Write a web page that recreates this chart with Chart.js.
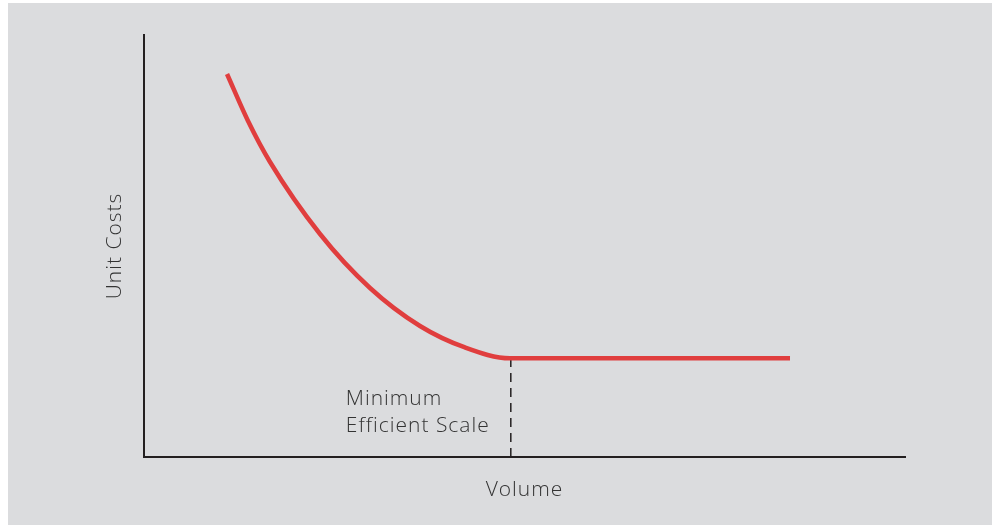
<!DOCTYPE html>
<html>
<head>
<meta charset="utf-8">
<script src="https://cdn.jsdelivr.net/npm/chart.js@4"></script>
<style>
  html, body { margin: 0; padding: 0; background: #ffffff; }
  #wrap {
    position: absolute; left: 8px; top: 3px;
    width: 984px; height: 522px;
    background: #dbdcde;
  }
</style>
</head>
<body>
<div id="wrap"><canvas id="costChart"></canvas></div>
<script>
// unit cost curve (x: volume 0-100, y: cost 0-100)
const costX = [10.91, 13.67, 16.56, 23.13, 29.70, 36.27, 42.18, 48.09, 84.89];
const costY = [90.76, 79.62, 69.91, 52.84, 40.05, 31.04, 25.95, 23.39, 23.39];

// minimum efficient scale marker
const mesX = 48.2;
const mesCost = 23.39;
const mesLabel = ["Minimum", "Efficient Scale"];

const xTitle = "Volume";
const yTitle = "Unit Costs";

const textColor = "#333333";
const axisColor = "#231f20";
const fontFamily = "'Open Sans', sans-serif";

const spacingPlugin = {
  id: "spacing",
  beforeDraw(chart) { chart.ctx.letterSpacing = "1px"; }
};

const labelPlugin = {
  id: "mesLabel",
  afterDatasetsDraw(chart) {
    const ctx = chart.ctx;
    const x = chart.scales.x.getPixelForValue(mesX) - 165;
    const y0 = chart.scales.y.getPixelForValue(0);
    ctx.save();
    ctx.letterSpacing = "1px";
    ctx.fillStyle = textColor;
    ctx.font = "300 21px " + fontFamily;
    ctx.textAlign = "left";
    ctx.textBaseline = "alphabetic";
    ctx.fillText(mesLabel[0], x, y0 - 52);
    ctx.fillText(mesLabel[1], x, y0 - 25);
    ctx.restore();
  }
};

new Chart(document.getElementById("costChart"), {
  type: "line",
  data: {
    datasets: [
      {
        data: [{x: mesX, y: 0}, {x: mesX, y: mesCost}],
        borderColor: axisColor,
        borderWidth: 1.5,
        borderDash: [9, 6],
        pointRadius: 0,
        order: 2
      },
      {
        data: costX.map((v, i) => ({x: v, y: costY[i]})),
        borderColor: "#e03e3e",
        borderWidth: 4.5,
        cubicInterpolationMode: "monotone",
        pointRadius: 0,
        order: 1
      }
    ]
  },
  options: {
    responsive: true,
    maintainAspectRatio: false,
    animation: false,
    layout: { padding: { left: 0, top: 32, right: 87, bottom: 0 } },
    plugins: { legend: { display: false }, tooltip: { enabled: false } },
    scales: {
      x: {
        type: "linear", min: 0, max: 100,
        grid: { display: false },
        ticks: { display: false },
        border: { display: true, color: axisColor, width: 2 },
        title: {
          display: true, text: xTitle, color: textColor,
          font: { family: fontFamily, size: 21, weight: 300 },
          padding: { top: 0, bottom: 22 }
        },
        afterFit(scale) { scale.height = 68; }
      },
      y: {
        type: "linear", min: 0, max: 100,
        grid: { display: false },
        ticks: { display: false },
        border: { display: true, color: axisColor, width: 2 },
        title: {
          display: true, text: yTitle, color: textColor,
          font: { family: fontFamily, size: 21, weight: 300 },
          padding: { top: 94, bottom: 0 }
        },
        afterFit(scale) { scale.width = 136; }
      }
    }
  },
  plugins: [spacingPlugin, labelPlugin]
});
</script>
</body>
</html>
